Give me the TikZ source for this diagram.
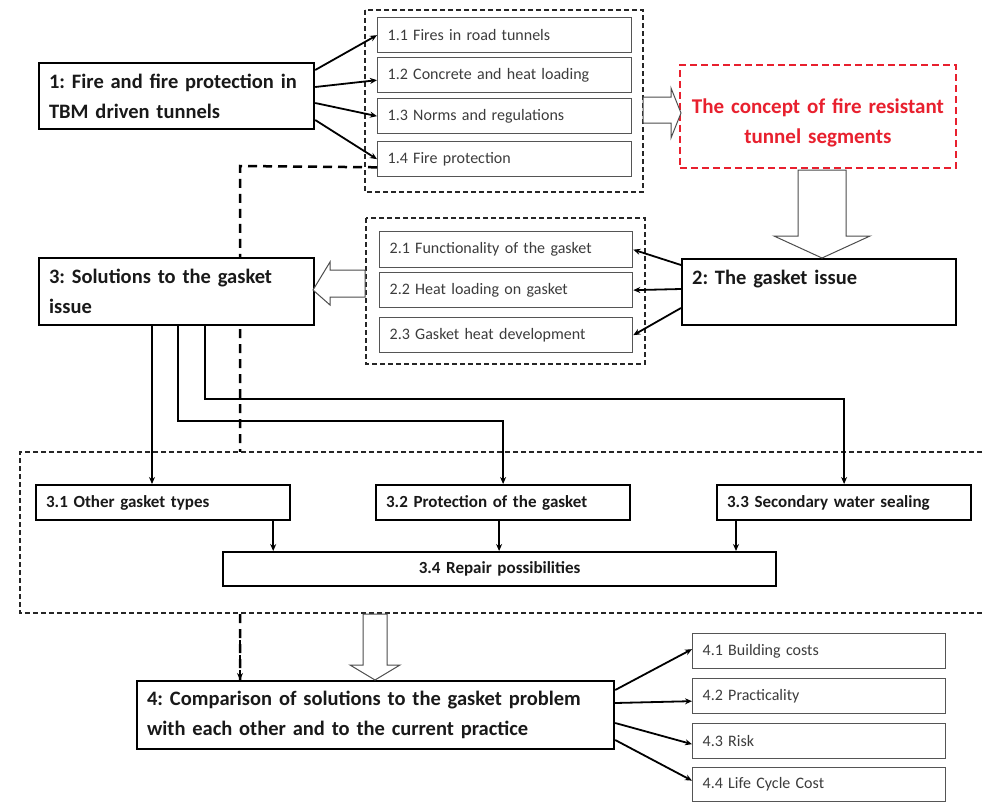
\documentclass[tikz,border=0pt]{standalone}
\usepackage{fontspec}
\setmainfont{Carlito}
\usetikzlibrary{arrows.meta,calc}
\definecolor{redc}{HTML}{E8202E}
\definecolor{smallc}{HTML}{3C3C3C}
\definecolor{smallb}{HTML}{555555}
\frenchspacing
\newcommand\mybox[7]{\pgfmathsetmacro\mytw{#4-20}\node[#6, minimum width=#4pt, minimum height=#5pt, text width=\mytw pt] (#1) at (#2,#3) {#7};}
\begin{document}
\begin{tikzpicture}[x=1pt,y=-1pt,
  boxbase/.style={anchor=north west, inner xsep=10pt, inner ysep=0pt, fill=white, align=left},
  big/.style={boxbase, draw=black, line width=2.2pt, font=\bfseries\fontsize{20.5}{30}\selectfont, text=black!90},
  small/.style={boxbase, draw=smallb, line width=1.3pt, font=\fontsize{16}{18}\selectfont, text=smallc},
  mid/.style={boxbase, draw=black, line width=2.2pt, font=\bfseries\fontsize{17}{19}\selectfont, text=black!90},
  redbox/.style={boxbase, align=center, draw=redc, line width=1.8pt, dash pattern=on 7pt off 4pt, font=\bfseries\fontsize{21}{30}\selectfont, text=redc},
  groupdash/.style={draw=black!85, line width=1.3pt, dash pattern=on 5pt off 3pt},
  arr/.style={draw=black, line width=1.8pt, -{Stealth[length=7pt,width=6pt]}},
  dashline/.style={draw=black, line width=2.5pt, dash pattern=on 9pt off 6pt},
  hollow/.style={draw=black!70, line width=1pt, fill=white}
]
\useasboundingbox (0,0) rectangle (983,801);

% long dashed connector (behind)
\coordinate (dl) at (240,166);

% group frames
\draw[groupdash] (365,10) rectangle (643,192);
\draw[groupdash] (366,218) rectangle (645,364);

% nodes
\mybox{b1}{38}{62}{275}{66}{big}{1: Fire and fire protection in\\TBM driven tunnels}
\mybox{n11}{377}{17}{254}{35}{small}{1.1 Fires in road tunnels}
\mybox{n12}{377}{57}{254}{35}{small}{1.2 Concrete and heat loading}
\mybox{n13}{377}{98}{254}{35}{small}{1.3 Norms and regulations}
\mybox{n14}{377}{141}{254}{35}{small}{1.4 Fire protection}
\mybox{red}{679}{64}{276}{103}{redbox}{\rule{0pt}{28pt}The concept of fire resistant\\tunnel segments}
\mybox{n21}{379}{231}{253}{36}{small}{2.1 Functionality of the gasket}
\mybox{n22}{379}{272}{253}{35}{small}{2.2 Heat loading on gasket}
\mybox{n23}{379}{317}{253}{35}{small}{2.3 Gasket heat development}
\mybox{b2}{681}{258}{274}{66}{big}{2: The gasket issue\\\mbox{}}

\draw[dashline] ([yshift=10pt]n14.south west) -- (dl) -- (dl |- 0,682);
\draw[groupdash, fill=white] (990,452) -- (20,452) -- (20,613) -- (990,613);
\draw[dashline, -{Stealth[length=7pt,width=6pt]}] (240,640) -- (240,680);

\mybox{b3}{38}{257}{275}{67}{big}{3: Solutions to the gasket\\issue}
\mybox{n31}{35}{484}{254}{35}{mid}{3.1 Other gasket types}
\mybox{n32}{375}{484}{254}{35}{mid}{3.2 Protection of the gasket}
\mybox{n33}{716}{484}{254}{35}{mid}{3.3 Secondary water sealing}
\node[mid, align=center, minimum width=553pt, minimum height=34pt, text width=533pt] (n34) at (222,551) {3.4 Repair possibilities};
\mybox{b4}{136}{680}{477}{68}{big}{4: Comparison of solutions to the gasket problem\\with each other and to the current practice}
\mybox{n41}{692}{633}{253}{35}{small}{4.1 Building costs}
\mybox{n42}{692}{678}{253}{35}{small}{4.2 Practicality}
\mybox{n43}{692}{723}{253}{35}{small}{4.3 Risk}
\mybox{n44}{692}{767}{253}{34}{small}{4.4 Life Cycle Cost}

% hollow arrows
\draw[hollow] (643,97) -- (671,97) -- (671,88) -- (681,113) -- (671,138) -- (671,123) -- (643,123) -- cycle;
\draw[hollow] (798,170) -- (846,170) -- (846,236) -- (870,236) -- (822,258) -- (774,236) -- (798,236) -- cycle;
\draw[hollow] (365,270) -- (330,270) -- (330,262) -- (313,290) -- (330,305) -- (330,297) -- (365,297) -- cycle;
\draw[hollow] (363,614) -- (387,614) -- (387,665) -- (400,665) -- (375,680) -- (350,665) -- (363,665) -- cycle;

% connectors from box 1
\draw[arr] ([yshift=-8pt]b1.north east) -- (n11.west);
\draw[arr] ([yshift=-25pt]b1.north east) -- ([yshift=-5pt]n12.west);
\draw[arr] ([yshift=-41pt]b1.north east) -- (n13.west);
\draw[arr] ([yshift=-58pt]b1.north east) -- (n14.west);

% connectors from box 2
\draw[arr] ([yshift=-7pt]b2.north west) -- (n21.east);
\draw[arr] ([yshift=-31pt]b2.north west) -- (n22.east);
\draw[arr] ([yshift=-50pt]b2.north west) -- (n23.east);

% connectors from box 3
\draw[arr] ([xshift=114pt]b3.south west) coordinate (s1) -- (s1 |- n31.north);
\draw[arr] ([xshift=140pt]b3.south west) -- ++(0,95) -| (n32.north);
\draw[arr] ([xshift=167pt]b3.south west) -- ++(0,73) -| (n33.north);

% to 3.4
\draw[arr] ([xshift=-18pt]n31.south east) coordinate (t1) -- (t1 |- n34.north);
\draw[arr] ([xshift=-4pt]n32.south) coordinate (t2) -- (t2 |- n34.north);
\draw[arr] ([xshift=20pt]n33.south west) coordinate (t3) -- (t3 |- n34.north);

% connectors from box 4
\draw[arr] ([yshift=-10pt]b4.north east) -- ([yshift=2pt]n41.west);
\draw[arr] ([yshift=-23pt]b4.north east) -- ([yshift=-5pt]n42.west);
\draw[arr] ([yshift=-43pt]b4.north east) -- ([yshift=-3pt]n43.west);
\draw[arr] ([yshift=-60pt]b4.north east) -- ([yshift=4pt]n44.west);
\end{tikzpicture}
\end{document}
